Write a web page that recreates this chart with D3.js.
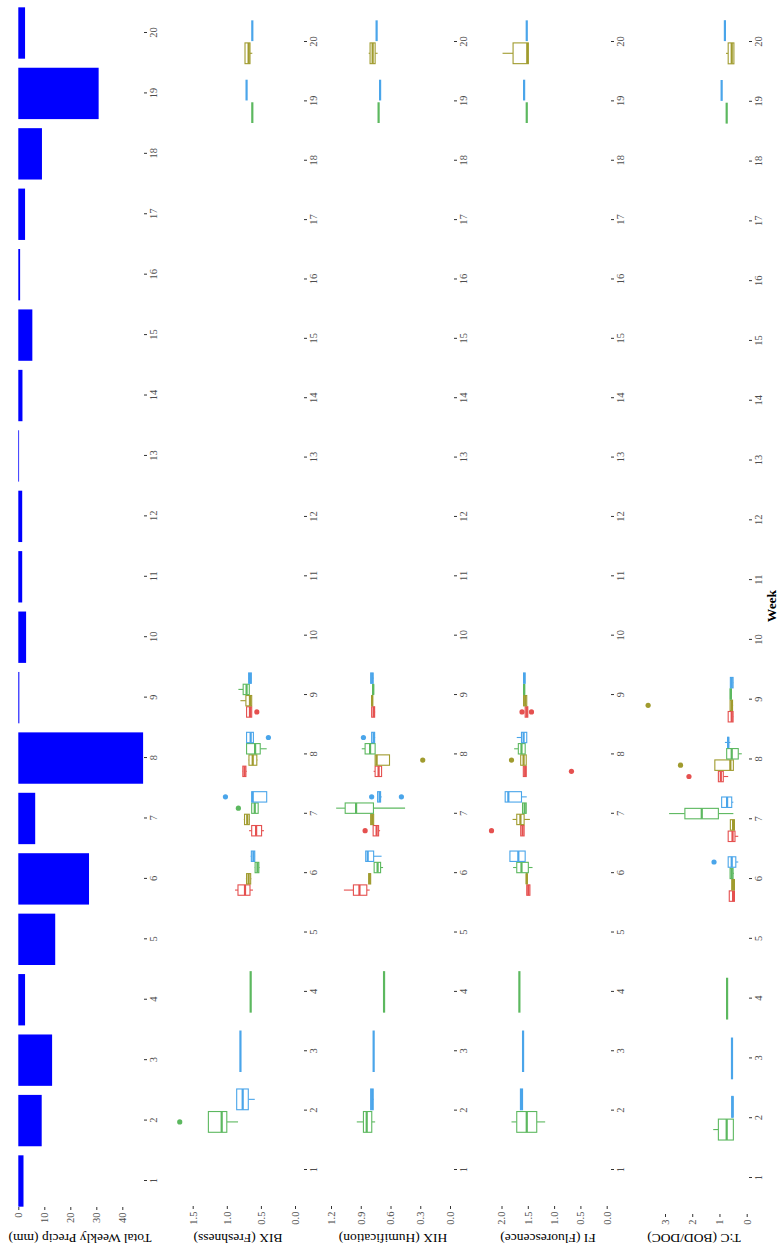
<!DOCTYPE html>
<html>
<head>
<meta charset="utf-8">
<script src="https://cdn.jsdelivr.net/npm/d3@7"></script>
<style>
  body { margin: 0; background: #fff; }
  svg { display: block; }
</style>
</head>
<body>
<svg id="chart" width="783" height="1247"></svg>
<script>
// ---- data ----
const weekLabels = ["1","2","3","4","5","6","7","8","9","10","11","12","13","14","15","16","17","18","19","20"];
const groups = ["Site 1", "Site 2", "Site 3", "Site 4"];
const groupColors = ["#E5504F", "#A09B2E", "#5CB85F", "#4AA5EA"];

// total weekly precipitation (mm), weeks 1..20
const precipMm = [2.0, 9.0, 13.0, 2.6, 14.2, 27.2, 6.5, 48.0, 0.4, 3.0, 1.5, 1.5, 0.3, 1.6, 5.4, 0.7, 2.6, 9.1, 30.9, 2.6];
const precipTicks = [0, 10, 20, 30, 40];
const bixTicks = [0, 0.5, 1.0, 1.5];
const hixTicks = [0, 0.3, 0.6, 0.9, 1.2];
const fiTicks = [0, 0.5, 1.0, 1.5, 2.0];
const tcTicks = [0, 1, 2, 3];

// box rows: [week, group, lower whisker, q1, median, q3, upper whisker, outliers]
const bixBoxes = [
  [2, 2, 0.835, 1.00, 1.075, 1.27, 1.27, [1.69]],
  [2, 3, 0.59, 0.685, 0.767, 0.855, 0.855, []],
  [3, 3, 0.80, 0.80, 0.80, 0.80, 0.80, []],
  [4, 2, 0.65, 0.65, 0.65, 0.65, 0.65, []],
  [6, 0, 0.616, 0.66, 0.733, 0.836, 0.88, []],
  [6, 1, 0.64, 0.65, 0.68, 0.71, 0.72, []],
  [6, 2, 0.52, 0.53, 0.55, 0.585, 0.59, []],
  [6, 3, 0.586, 0.59, 0.61, 0.64, 0.65, []],
  [7, 0, 0.455, 0.49, 0.57, 0.635, 0.674, []],
  [7, 1, 0.66, 0.67, 0.70, 0.74, 0.75, []],
  [7, 2, 0.54, 0.54, 0.59, 0.635, 0.635, [0.83]],
  [7, 3, 0.415, 0.415, 0.62, 0.635, 0.635, [1.02]],
  [8, 0, 0.71, 0.72, 0.74, 0.765, 0.77, []],
  [8, 1, 0.55, 0.56, 0.62, 0.675, 0.68, []],
  [8, 2, 0.415, 0.51, 0.585, 0.71, 0.71, []],
  [8, 3, 0.61, 0.61, 0.65, 0.71, 0.71, [0.39]],
  [9, 0, 0.63, 0.635, 0.66, 0.71, 0.71, [0.56]],
  [9, 1, 0.635, 0.635, 0.66, 0.72, 0.80, []],
  [9, 2, 0.67, 0.67, 0.71, 0.76, 0.83, []],
  [9, 3, 0.635, 0.64, 0.66, 0.68, 0.685, []],
  [19, 2, 0.626, 0.626, 0.626, 0.626, 0.626, []],
  [19, 3, 0.71, 0.71, 0.71, 0.71, 0.71, []],
  [20, 1, 0.626, 0.66, 0.68, 0.733, 0.733, []],
  [20, 3, 0.626, 0.626, 0.626, 0.626, 0.626, []]
];

const hixBoxes = [
  [2, 2, 0.755, 0.789, 0.84, 0.873, 0.94, []],
  [2, 3, 0.77, 0.775, 0.785, 0.80, 0.80, []],
  [3, 3, 0.77, 0.77, 0.77, 0.77, 0.77, []],
  [4, 2, 0.665, 0.665, 0.665, 0.665, 0.665, []],
  [6, 0, 0.81, 0.839, 0.913, 0.974, 1.07, []],
  [6, 1, 0.80, 0.80, 0.81, 0.82, 0.82, []],
  [6, 2, 0.675, 0.70, 0.73, 0.765, 0.765, []],
  [6, 3, 0.69, 0.77, 0.83, 0.85, 0.85, []],
  [7, 0, 0.705, 0.72, 0.74, 0.775, 0.775, [0.856]],
  [7, 1, 0.77, 0.77, 0.785, 0.80, 0.80, []],
  [7, 2, 0.453, 0.772, 0.947, 1.057, 1.148, []],
  [7, 3, 0.69, 0.70, 0.71, 0.73, 0.73, [0.79, 0.49]],
  [8, 0, 0.69, 0.69, 0.72, 0.755, 0.77, []],
  [8, 1, 0.61, 0.61, 0.74, 0.755, 0.755, [0.275]],
  [8, 2, 0.755, 0.755, 0.806, 0.856, 0.89, []],
  [8, 3, 0.755, 0.76, 0.77, 0.79, 0.79, [0.873]],
  [9, 0, 0.755, 0.76, 0.77, 0.79, 0.79, []],
  [9, 1, 0.78, 0.78, 0.785, 0.79, 0.79, []],
  [9, 2, 0.77, 0.77, 0.775, 0.78, 0.78, []],
  [9, 3, 0.77, 0.775, 0.785, 0.80, 0.80, []],
  [19, 2, 0.72, 0.72, 0.72, 0.72, 0.72, []],
  [19, 3, 0.705, 0.705, 0.705, 0.705, 0.705, []],
  [20, 1, 0.73, 0.755, 0.78, 0.806, 0.82, []],
  [20, 3, 0.74, 0.74, 0.74, 0.74, 0.74, []]
];

const fiBoxes = [
  [2, 2, 1.17, 1.33, 1.52, 1.71, 1.81, []],
  [2, 3, 1.60, 1.60, 1.62, 1.64, 1.64, []],
  [3, 3, 1.59, 1.59, 1.59, 1.59, 1.59, []],
  [4, 2, 1.66, 1.66, 1.66, 1.66, 1.66, []],
  [6, 0, 1.46, 1.46, 1.49, 1.52, 1.52, []],
  [6, 1, 1.51, 1.51, 1.52, 1.53, 1.53, []],
  [6, 2, 1.41, 1.49, 1.62, 1.71, 1.78, []],
  [6, 3, 1.55, 1.55, 1.68, 1.84, 1.84, []],
  [7, 0, 1.57, 1.57, 1.60, 1.635, 1.635, [2.19]],
  [7, 1, 1.46, 1.57, 1.64, 1.71, 1.79, []],
  [7, 2, 1.53, 1.53, 1.56, 1.60, 1.60, []],
  [7, 3, 1.52, 1.62, 1.87, 1.93, 1.93, []],
  [8, 0, 1.53, 1.53, 1.55, 1.585, 1.585, [0.67]],
  [8, 1, 1.53, 1.53, 1.58, 1.635, 1.635, [1.81]],
  [8, 2, 1.55, 1.55, 1.62, 1.68, 1.76, []],
  [8, 3, 1.52, 1.52, 1.58, 1.62, 1.71, []],
  [9, 0, 1.50, 1.50, 1.52, 1.55, 1.55, [1.61, 1.43]],
  [9, 1, 1.52, 1.52, 1.55, 1.58, 1.58, []],
  [9, 2, 1.56, 1.56, 1.57, 1.58, 1.58, []],
  [9, 3, 1.55, 1.55, 1.57, 1.58, 1.58, []],
  [19, 2, 1.52, 1.52, 1.52, 1.52, 1.52, []],
  [19, 3, 1.57, 1.57, 1.57, 1.57, 1.57, []],
  [20, 1, 1.49, 1.49, 1.51, 1.78, 1.98, []],
  [20, 3, 1.52, 1.52, 1.52, 1.52, 1.52, []]
];

const tcBoxes = [
  [2, 2, 0.49, 0.49, 0.735, 1.04, 1.23, []],
  [2, 3, 0.50, 0.50, 0.52, 0.55, 0.55, []],
  [3, 3, 0.54, 0.54, 0.54, 0.54, 0.54, []],
  [4, 2, 0.72, 0.72, 0.72, 0.72, 0.72, []],
  [6, 0, 0.43, 0.45, 0.50, 0.64, 0.64, []],
  [6, 1, 0.43, 0.45, 0.50, 0.55, 0.55, []],
  [6, 2, 0.47, 0.50, 0.55, 0.61, 0.61, []],
  [6, 3, 0.31, 0.40, 0.55, 0.68, 0.68, [1.2]],
  [7, 0, 0.31, 0.43, 0.52, 0.68, 0.68, []],
  [7, 1, 0.43, 0.45, 0.50, 0.60, 0.60, []],
  [7, 2, 0.49, 1.04, 1.65, 2.27, 2.85, []],
  [7, 3, 0.49, 0.55, 0.72, 0.92, 0.92, []],
  [8, 0, 0.68, 0.86, 0.95, 1.04, 1.04, [2.12]],
  [8, 1, 0.49, 0.49, 0.60, 1.17, 1.17, [2.43]],
  [8, 2, 0.18, 0.31, 0.55, 0.735, 0.735, []],
  [8, 3, 0.60, 0.66, 0.68, 0.70, 0.80, []],
  [9, 0, 0.49, 0.50, 0.55, 0.68, 0.68, []],
  [9, 1, 0.50, 0.52, 0.55, 0.61, 0.61, [3.62]],
  [9, 2, 0.55, 0.56, 0.58, 0.61, 0.61, []],
  [9, 3, 0.49, 0.50, 0.55, 0.60, 0.60, []],
  [19, 2, 0.735, 0.735, 0.735, 0.735, 0.735, []],
  [19, 3, 0.92, 0.92, 0.92, 0.92, 0.92, []],
  [20, 1, 0.47, 0.47, 0.55, 0.68, 0.76, []],
  [20, 3, 0.80, 0.80, 0.80, 0.80, 0.80, []]
];

// ---- layout (landscape frame, turned a quarter turn on the page) ----
const FW = 1247, FH = 783;
const serif = "'Liberation Serif', 'DejaVu Serif', serif";
const tickFont = 10.5, titleFont = 13.5;

const svg = d3.select("#chart");
svg.append("rect").attr("width", 783).attr("height", 1247).attr("fill", "#fff");
const frame = svg.append("g").attr("transform", `translate(0,${FW}) rotate(-90)`);

function styleAxis(g) {
  g.select(".domain").remove();
  g.selectAll(".tick line").attr("stroke", "#333").attr("stroke-width", 1);
  g.selectAll(".tick text")
    .attr("fill", "#4d4d4d")
    .style("font-family", serif)
    .style("font-size", tickFont + "px");
}

function addAxes(g, x, y, cfg, ticks, fmt, title) {
  g.append("g")
    .attr("transform", `translate(0,${cfg.axisY})`)
    .call(d3.axisBottom(x).tickSize(3).tickPadding(2.5))
    .call(styleAxis);
  g.append("g")
    .attr("transform", `translate(${cfg.left},0)`)
    .call(d3.axisLeft(y).tickValues(ticks).tickFormat(fmt).tickSize(3).tickPadding(2.5))
    .call(styleAxis);
  g.append("text")
    .attr("transform", `translate(${cfg.titleX},${cfg.titleY}) rotate(-90)`)
    .attr("text-anchor", "middle")
    .attr("dominant-baseline", "middle")
    .style("font-family", serif)
    .style("font-size", titleFont + "px")
    .attr("fill", "#000")
    .text(title);
}

// precipitation bars
(function () {
  const cfg = { x0: 66, x1: 1214, v0: 0, v1: 40, p0: 18.3, p1: 122.3, axisY: 144, left: 40, titleX: 10, titleY: 80 };
  const x = d3.scalePoint().domain(weekLabels).range([cfg.x0, cfg.x1]);
  const y = d3.scaleLinear().domain([cfg.v0, cfg.v1]).range([cfg.p0, cfg.p1]);
  const g = frame.append("g");
  const bw = x.step() * 0.85;
  g.selectAll("rect.bar")
    .data(precipMm)
    .join("rect")
    .attr("class", "bar")
    .attr("x", (d, i) => x(weekLabels[i]) - bw / 2)
    .attr("y", y(0))
    .attr("width", bw)
    .attr("height", d => y(d) - y(0))
    .attr("fill", "#0000FF");
  addAxes(g, x, y, cfg, precipTicks, d3.format("d"), "Total Weekly Precip (mm)");
})();

// grouped box plots
function boxPanel(rows, cfg, ticks, fmt, title) {
  const x = d3.scalePoint().domain(weekLabels).range([cfg.x0, cfg.x1]);
  const y = d3.scaleLinear().domain([cfg.v0, cfg.v1]).range([cfg.p0, cfg.p1]);
  const g = frame.append("g");
  const total = x.step() * 0.76;
  const byWeek = d3.group(rows, r => r[0]);
  const items = [];
  byWeek.forEach(list => {
    const sorted = list.slice().sort((a, b) => a[1] - b[1]);
    const slot = total / sorted.length;
    sorted.forEach((r, i) => {
      const cx = x(String(r[0])) - total / 2 + slot * (i + 0.5);
      items.push({ r, cx, w: slot * 0.92 });
    });
  });
  const box = g.selectAll("g.box").data(items).join("g").attr("class", "box");
  box.each(function (d) {
    const s = d3.select(this);
    const [wk, grp, lw, q1, med, q3, uw, out] = d.r;
    const col = groupColors[grp];
    s.append("line").attr("x1", d.cx).attr("x2", d.cx).attr("y1", y(q3)).attr("y2", y(uw))
      .attr("stroke", col).attr("stroke-width", 1.1);
    s.append("line").attr("x1", d.cx).attr("x2", d.cx).attr("y1", y(q1)).attr("y2", y(lw))
      .attr("stroke", col).attr("stroke-width", 1.1);
    s.append("rect").attr("x", d.cx - d.w / 2).attr("width", d.w)
      .attr("y", y(q3)).attr("height", Math.max(0, y(q1) - y(q3)))
      .attr("fill", "#fff").attr("stroke", col).attr("stroke-width", 1.1);
    s.append("line").attr("x1", d.cx - d.w / 2).attr("x2", d.cx + d.w / 2)
      .attr("y1", y(med)).attr("y2", y(med))
      .attr("stroke", col).attr("stroke-width", 2.2);
    s.selectAll("circle").data(out).join("circle")
      .attr("cx", d.cx).attr("cy", v => y(v)).attr("r", 2.6).attr("fill", col);
  });
  addAxes(g, x, y, cfg, ticks, fmt, title);
}

boxPanel(bixBoxes, { x0: 77, x1: 1205, v0: 0, v1: 1.5, p0: 295, p1: 192.7, axisY: 304, left: 41, titleX: 10, titleY: 238 },
  bixTicks, d3.format(".1f"), "BIX (Freshness)");
boxPanel(hixBoxes, { x0: 77, x1: 1205, v0: 0, v1: 1.2, p0: 450, p1: 331, axisY: 454, left: 41, titleX: 10, titleY: 393 },
  hixTicks, d3.format(".1f"), "HIX (Humification)");
boxPanel(fiBoxes, { x0: 77, x1: 1205, v0: 0, v1: 2.0, p0: 606.7, p1: 501.5, axisY: 611, left: 41, titleX: 10, titleY: 548 },
  fiTicks, d3.format(".1f"), "FI (Fluorescence)");
boxPanel(tcBoxes, { x0: 69, x1: 1205, v0: 0, v1: 3, p0: 746.7, p1: 665, axisY: 749, left: 33, titleX: 10, titleY: 694 },
  tcTicks, d3.format("d"), "T:C (BOD/DOC)");

// shared week title
frame.append("text")
  .attr("x", 641).attr("y", 773)
  .attr("text-anchor", "middle")
  .attr("dominant-baseline", "middle")
  .style("font-family", serif)
  .style("font-size", titleFont + "px")
  .style("font-weight", "bold")
  .attr("fill", "#000")
  .text("Week");
</script>
</body>
</html>
